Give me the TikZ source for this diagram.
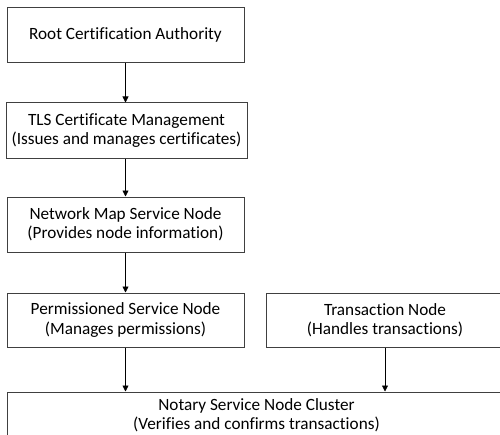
\documentclass[tikz,border=0pt]{standalone}
\usepackage{fontspec}
\setmainfont[Ligatures=NoCommon]{Carlito}
\usetikzlibrary{arrows.meta}

\tikzset{
  box/.style={draw=black!75, line width=0.75pt, rectangle, align=center,
    minimum width=177.75pt, minimum height=41.25pt, inner sep=0pt,
    font=\fontsize{12.9}{14.4}\selectfont},
  flow/.style={draw=black, line width=0.6pt, -{Triangle[length=4.5pt, width=4.5pt]}}
}

\begin{document}
\begin{tikzpicture}[x=0.75pt, y=-0.75pt]
      \useasboundingbox (0,0) rectangle (500,435);
      \clip (0,0) rectangle (500,435);
      \fill[white] (0,0) rectangle (500,435);
        \node[box] (root) at (125.5, 35) {Root Certification Authority};
        \node[box, minimum width=180.75pt] (tls) at (126.5, 130.5) {TLS Certificate Management\\(Issues and manages certificates)};
        \node[box] (netmap) at (125.5, 224.5) {Network Map Service Node\\(Provides node information)};
        \node[box, minimum height=40.5pt] (perm) at (125.5, 320) {Permissioned Service Node\\(Manages permissions)};
        \node[box, minimum height=40.5pt] (trans) at (385, 320) {Transaction Node\\(Handles transactions)};
        \node[box, minimum width=374.25pt, minimum height=34.5pt] (notary) at (256.5, 415) {Notary Service Node Cluster\\(Verifies and confirms transactions)};
      \draw[flow] (root.south) -- (root.south |- tls.north);
      \draw[flow] (root.south |- tls.south) -- (root.south |- netmap.north);
      \draw[flow] (netmap.south) -- (perm.north);
      \draw[flow] (perm.south) -- (perm.south |- notary.north);
      \draw[flow] (trans.south) -- (trans.south |- notary.north);
      \end{tikzpicture}
\end{document}
